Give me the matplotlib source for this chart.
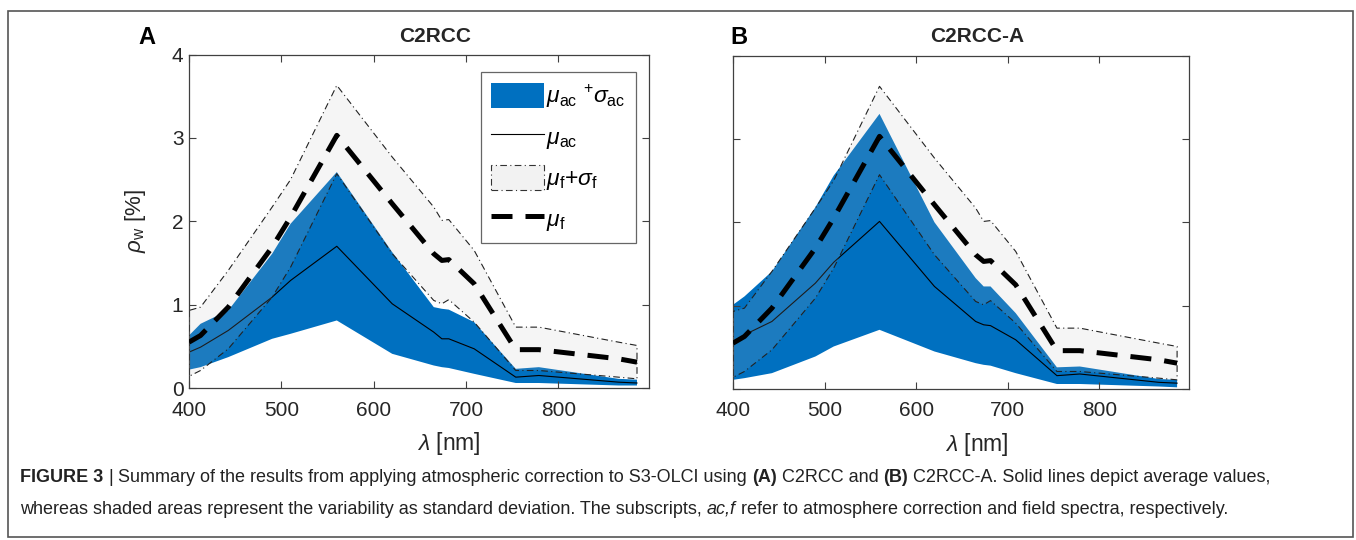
import numpy as np
import matplotlib
matplotlib.use("Agg")
import matplotlib.pyplot as plt
from matplotlib.patches import Patch, Rectangle
from matplotlib.lines import Line2D

plt.rcParams['font.family'] = ['Liberation Sans', 'DejaVu Sans']
plt.rcParams['mathtext.fontset'] = 'custom'
plt.rcParams['mathtext.rm'] = 'Liberation Sans'
plt.rcParams['mathtext.it'] = 'Liberation Sans:italic'
plt.rcParams['mathtext.bf'] = 'Liberation Sans:bold'

# OLCI band centres [nm]
wl = [400, 412.5, 442.5, 490, 510, 560, 620, 665, 673.75, 681.25, 708.75,
      753.75, 778.75, 865, 885]

# field spectra (same in both panels)
f_mean = [0.55, 0.63, 0.97, 1.69, 2.05, 3.03, 2.21, 1.61, 1.53, 1.54, 1.25,
          0.46, 0.46, 0.35, 0.31]
f_up = [0.93, 0.97, 1.41, 2.17, 2.50, 3.63, 2.77, 2.17, 2.01, 2.02, 1.65,
        0.73, 0.73, 0.55, 0.51]
f_lo = [0.14, 0.21, 0.47, 1.09, 1.45, 2.57, 1.61, 1.05, 1.01, 1.06, 0.79,
        0.21, 0.21, 0.13, 0.11]

# C2RCC
a_mean = [0.43, 0.49, 0.69, 1.09, 1.29, 1.70, 1.01, 0.67, 0.59, 0.59, 0.47,
          0.13, 0.15, 0.07, 0.06]
a_up = [0.63, 0.77, 0.93, 1.61, 1.97, 2.59, 1.63, 0.97, 0.95, 0.94, 0.79,
        0.23, 0.25, 0.11, 0.10]
a_lo = [0.22, 0.25, 0.37, 0.59, 0.65, 0.81, 0.41, 0.27, 0.25, 0.24, 0.17,
        0.06, 0.06, 0.03, 0.03]

# C2RCC-A
b_mean = [0.53, 0.65, 0.81, 1.27, 1.52, 2.01, 1.23, 0.81, 0.77, 0.76, 0.59,
          0.16, 0.18, 0.08, 0.07]
b_up = [1.01, 1.11, 1.41, 2.18, 2.56, 3.30, 2.00, 1.33, 1.23, 1.23, 0.91,
        0.26, 0.27, 0.12, 0.11]
b_lo = [0.11, 0.13, 0.19, 0.39, 0.51, 0.71, 0.45, 0.31, 0.29, 0.28, 0.19,
        0.06, 0.06, 0.03, 0.02]

blue = '#0070C0'
grey_fill = (0.75, 0.75, 0.75, 0.15)
dashdot = (0, (6, 3, 1, 3))
axcol = '#404040'
txtcol = '#262626'

W, H = 1356, 540
fig = plt.figure(figsize=(W / 100, H / 100), dpi=100)


def px(x0, y0, x1, y1):
    return [x0 / W, 1 - y1 / H, (x1 - x0) / W, (y1 - y0) / H]


axA = fig.add_axes(px(189, 54.5, 649, 388))
axB = fig.add_axes(px(733, 55.5, 1189, 389))


def draw(ax, mean, lo, up):
    ax.fill_between(wl, lo, up, facecolor=blue, edgecolor='none', zorder=1)
    ax.plot(wl, mean, color='k', lw=0.8, zorder=2)
    ax.fill_between(wl, f_lo, f_up, facecolor=grey_fill, edgecolor='#222222',
                    linestyle=dashdot, lw=0.8, zorder=3)
    ax.plot(wl, f_mean, color='k', lw=3.6, dashes=(4.2, 2.6), zorder=4)
    ax.set_xlim(400, 898)
    ax.set_ylim(0, 4)
    ax.set_xticks([400, 500, 600, 700, 800])
    ax.set_yticks([0, 1, 2, 3, 4])
    ax.tick_params(direction='in', length=5, width=0.8, top=True, right=True,
                   colors=axcol, labelcolor=txtcol, labelsize=15)
    ax.tick_params(axis='x', pad=9)
    ax.tick_params(axis='y', pad=4)
    for s in ax.spines.values():
        s.set_color(axcol)
        s.set_linewidth(0.9)


draw(axA, a_mean, a_lo, a_up)
draw(axB, b_mean, b_lo, b_up)
axB.set_yticklabels([])

axA.set_ylabel(r'$\rho_{\rm w}$ [%]', fontsize=16, color=txtcol)
axA.yaxis.set_label_coords(-0.089, 0.5)
axA.set_xlabel(r'$\lambda$ [nm]', fontsize=16.5, color=txtcol)
axA.xaxis.set_label_coords(0.565, -0.125)
axB.set_xlabel(r'$\lambda$ [nm]', fontsize=16.5, color=txtcol)
axB.xaxis.set_label_coords(0.535, -0.125)

fig.text(435 / W, 1 - 37 / H, 'C2RCC', fontsize=15, fontweight='bold',
         ha='center', va='center', color=txtcol)
fig.text(977 / W, 1 - 37 / H, 'C2RCC-A', fontsize=15, fontweight='bold',
         ha='center', va='center', color=txtcol)
fig.text(147 / W, 1 - 38 / H, 'A', fontsize=17, fontweight='bold',
         ha='center', va='center', color='k')
fig.text(739 / W, 1 - 38 / H, 'B', fontsize=17, fontweight='bold',
         ha='center', va='center', color='k')

handles = [
    Patch(facecolor=blue, edgecolor='none'),
    Line2D([], [], color='k', lw=0.8),
    Patch(facecolor='#f2f2f2', edgecolor='#333333', linestyle=dashdot, lw=0.8),
    Line2D([], [], color='k', lw=3.6, dashes=(4.2, 2.6)),
]
labels = [r'$\mu_{\rm ac}$ $^{+}\sigma_{\rm ac}$', r'$\mu_{\rm ac}$',
          r'$\mu_{\rm f}$$+\sigma_{\rm f}$', r'$\mu_{\rm f}$']
leg = axA.legend(handles, labels, loc='upper right',
                 bbox_to_anchor=(0.972, 0.948), fontsize=16.5, frameon=True,
                 fancybox=False, edgecolor=axcol, handlelength=2.3,
                 handleheight=1.3, handletextpad=0.1, labelspacing=0.6,
                 borderpad=0.45, borderaxespad=0)
leg.get_frame().set_linewidth(0.9)

# outer frame
fig.patches.append(Rectangle((8 / W, 3 / H), 1345 / W, 526 / H,
                             transform=fig.transFigure, fill=False,
                             edgecolor='#555555', lw=1.2))

# caption with mixed styles
renderer = fig.canvas.get_renderer()
cap_size = 13.0
space_w = None


def caption_line(y, parts):
    global space_w
    x = 20
    for txt, weight, style, gap in parts:
        t = fig.text(x / W, 1 - y / H, txt, fontsize=cap_size,
                     fontweight=weight, fontstyle=style, va='center',
                     color='#222222')
        bb = t.get_window_extent(renderer)
        x += bb.width
        if gap:
            if space_w is None:
                s = fig.text(0, 0, 'a a', fontsize=cap_size)
                s2 = fig.text(0, 0, 'aa', fontsize=cap_size)
                space_w = (s.get_window_extent(renderer).width
                           - s2.get_window_extent(renderer).width)
                s.remove()
                s2.remove()
            x += space_w


caption_line(477, [
    ('FIGURE 3', 'bold', 'normal', True),
    ('|', 'normal', 'normal', True),
    ('Summary of the results from applying atmospheric correction to S3-OLCI using', 'normal', 'normal', True),
    ('(A)', 'bold', 'normal', True),
    ('C2RCC and', 'normal', 'normal', True),
    ('(B)', 'bold', 'normal', True),
    ('C2RCC-A. Solid lines depict average values,', 'normal', 'normal', False),
])
caption_line(509, [
    ('whereas shaded areas represent the variability as standard deviation. The subscripts,', 'normal', 'normal', True),
    ('ac,f', 'normal', 'italic', True),
    ('refer to atmosphere correction and field spectra, respectively.', 'normal', 'normal', False),
])

fig.savefig('out.png', dpi=100)
